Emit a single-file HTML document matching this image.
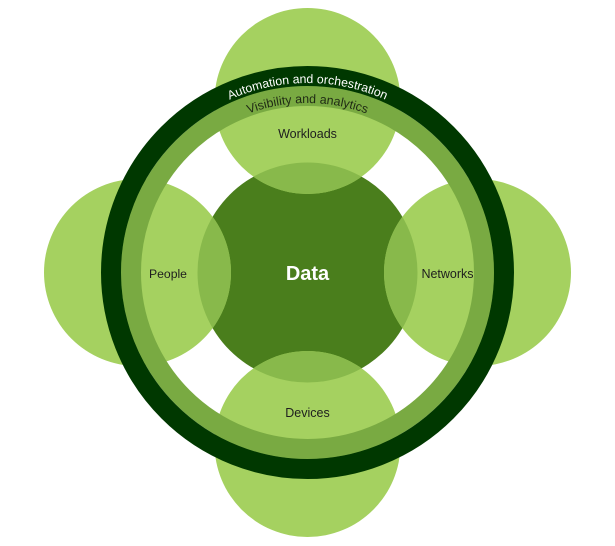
<!DOCTYPE html>
<html>
<head>
<meta charset="utf-8">
<style>
  html,body{margin:0;padding:0;background:#fff;}
  svg{display:block;}
  text{font-family:"Liberation Sans", Arial, sans-serif;}
</style>
</head>
<body>
<svg width="615" height="546" viewBox="0 0 615 546" xmlns="http://www.w3.org/2000/svg">
  <defs>
    <clipPath id="dataClip"><circle cx="307.5" cy="272.5" r="110"/></clipPath>
    <path id="arcA" d="M 118 272.5 A 189.5 189.5 0 0 1 497 272.5"/>
    <path id="arcV" d="M 138 272.5 A 169.5 169.5 0 0 1 477 272.5"/>
  </defs>

  <!-- Data circle -->
  <circle cx="307.5" cy="272.5" r="110" fill="#4a7e1c"/>

  <!-- Outer circles -->
  <circle cx="307.5" cy="101" r="93" fill="#a5d160"/>
  <circle cx="137.5" cy="272.5" r="93.5" fill="#a5d160"/>
  <circle cx="477.5" cy="272.5" r="93.5" fill="#a5d160"/>
  <circle cx="307.5" cy="444" r="93" fill="#a5d160"/>

  <!-- Lens overlaps -->
  <g clip-path="url(#dataClip)" fill="#88b94b">
    <circle cx="307.5" cy="101" r="93"/>
    <circle cx="137.5" cy="272.5" r="93.5"/>
    <circle cx="477.5" cy="272.5" r="93.5"/>
    <circle cx="307.5" cy="444" r="93"/>
  </g>

  <!-- Rings -->
  <circle cx="307.5" cy="272.5" r="176.5" fill="none" stroke="#79aa42" stroke-width="20"/>
  <circle cx="307.5" cy="272.5" r="196.5" fill="none" stroke="#003800" stroke-width="20"/>

  <!-- Curved labels -->
  <text font-size="12.3" fill="#ffffff">
    <textPath href="#arcA" startOffset="50%" text-anchor="middle">Automation and orchestration</textPath>
  </text>
  <text font-size="12.4" fill="#1f2a14">
    <textPath href="#arcV" startOffset="50%" text-anchor="middle">Visibility and analytics</textPath>
  </text>

  <!-- Node labels -->
  <text x="307.5" y="138" font-size="12.5" fill="#1e1e1e" text-anchor="middle">Workloads</text>
  <text x="168" y="278" font-size="12.2" fill="#1e1e1e" text-anchor="middle">People</text>
  <text x="447.5" y="278" font-size="12.5" fill="#1e1e1e" text-anchor="middle">Networks</text>
  <text x="307.5" y="417" font-size="12.5" fill="#1e1e1e" text-anchor="middle">Devices</text>
  <text x="307.5" y="280" font-size="20" font-weight="bold" fill="#ffffff" text-anchor="middle">Data</text>
</svg>
</body>
</html>
